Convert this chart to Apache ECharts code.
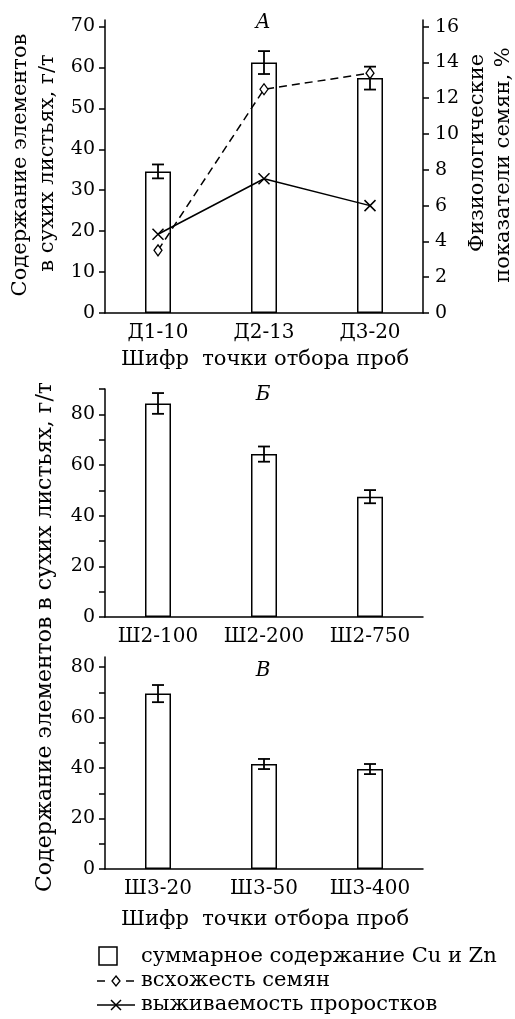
<!DOCTYPE html>
<html>
<head>
<meta charset="utf-8">
<script src="https://cdn.jsdelivr.net/npm/echarts@6/dist/echarts.min.js"></script>
<style>
html,body{margin:0;padding:0;background:#fff;}
#chart{width:515px;height:1019px;}
</style>
</head>
<body>
<div id="chart"></div>
<script>
// ---- data ----
const catsA = ['Д1-10', 'Д2-13', 'Д3-20'];
const catsB = ['Ш2-100', 'Ш2-200', 'Ш2-750'];
const catsC = ['Ш3-20', 'Ш3-50', 'Ш3-400'];
const sumA = [34.6, 61.2, 57.4];
const errA = [1.7, 2.8, 2.8];
const germA = [3.5, 12.5, 13.4];      // всхожесть семян, %
const survA = [4.4, 7.5, 6.0];        // выживаемость проростков, %
const sumB = [84.3, 64.3, 47.5];
const errB = [4.1, 3.0, 2.6];
const sumC = [69.5, 41.6, 39.6];
const errC = [3.4, 2.0, 2.0];
const ticksA = [0, 10, 20, 30, 40, 50, 60, 70];
const ticksA2 = [0, 2, 4, 6, 8, 10, 12, 14, 16];
const ticksB = [0, 10, 20, 30, 40, 50, 60, 70, 80, 90];
const labelsB = [0, 20, 40, 60, 80];
const ticksC = [0, 10, 20, 30, 40, 50, 60, 70, 80];
const labelsC = [0, 20, 40, 60, 80];

const FONT = '"DejaVu Serif", serif';
const FS = 19;
const LW = 1.5;

function xAx(grid, data) {
  return {
    type: 'category', gridIndex: grid, data: data, boundaryGap: true,
    axisLine: { lineStyle: { color: '#000', width: LW } },
    axisTick: { length: 6, lineStyle: { color: '#000', width: LW } },
    axisLabel: { color: '#000', fontFamily: FONT, fontSize: 20, margin: 10 },
    splitLine: { show: false }
  };
}
function yAx(grid, max, ticks, labels, pos) {
  return {
    type: 'value', gridIndex: grid, min: 0, max: max, position: pos || 'left',
    axisLine: { show: true, lineStyle: { color: '#000', width: LW } },
    axisTick: { show: true, length: 6, customValues: ticks, lineStyle: { color: '#000', width: LW } },
    axisLabel: { color: '#000', fontFamily: FONT, fontSize: FS, margin: pos === 'right' ? 12 : 10, customValues: labels },
    splitLine: { show: false }
  };
}
function barSeries(i, data) {
  return {
    type: 'bar', xAxisIndex: i, yAxisIndex: i === 0 ? 0 : i + 1, data: data, barWidth: 26,
    itemStyle: { color: '#fff', borderColor: '#000', borderWidth: LW }, z: 2
  };
}
function errSeries(i, vals, errs) {
  return {
    type: 'custom', xAxisIndex: i, yAxisIndex: i === 0 ? 0 : i + 1, z: 3,
    data: vals.map((v, k) => [k, v - errs[k], v + errs[k]]),
    renderItem: function (params, api) {
      const lo = api.coord([api.value(0), api.value(1)]);
      const hi = api.coord([api.value(0), api.value(2)]);
      const h = 6;
      const st = { stroke: '#000', lineWidth: 1.8 };
      return {
        type: 'group', children: [
          { type: 'line', shape: { x1: lo[0], y1: lo[1], x2: hi[0], y2: hi[1] }, style: st },
          { type: 'line', shape: { x1: lo[0] - h, y1: lo[1], x2: lo[0] + h, y2: lo[1] }, style: st },
          { type: 'line', shape: { x1: hi[0] - h, y1: hi[1], x2: hi[0] + h, y2: hi[1] }, style: st }
        ]
      };
    }
  };
}
function txt(text, x, y, opts) {
  opts = opts || {};
  return {
    type: 'text', x: x, y: y, rotation: opts.rot || 0, z: 10,
    style: {
      text: text, fill: '#000', align: opts.align || 'center', verticalAlign: 'middle',
      font: (opts.italic ? 'italic ' : '') + (opts.size || FS) + 'px ' + FONT
    }
  };
}
const R = Math.PI / 2;

const option = {
  animation: false,
  backgroundColor: '#fff',
  grid: [
    { left: 105, top: 20, width: 318, height: 293 },
    { left: 105, top: 389, width: 318, height: 228 },
    { left: 105, top: 657, width: 318, height: 212 }
  ],
  xAxis: [xAx(0, catsA), xAx(1, catsB), xAx(2, catsC)],
  yAxis: [
    yAx(0, 71.6, ticksA, ticksA),
    yAx(0, 16.37, ticksA2, ticksA2, 'right'),
    yAx(1, 90, ticksB, labelsB),
    yAx(2, 84, ticksC, labelsC)
  ],
  series: [
    barSeries(0, sumA), errSeries(0, sumA, errA),
    barSeries(1, sumB), errSeries(1, sumB, errB),
    barSeries(2, sumC), errSeries(2, sumC, errC),
    {
      type: 'line', xAxisIndex: 0, yAxisIndex: 1, data: germA, z: 5,
      symbol: 'diamond', symbolSize: [8, 11], showSymbol: true,
      lineStyle: { color: '#000', width: LW, type: [8, 5] },
      itemStyle: { color: '#fff', borderColor: '#000', borderWidth: 1.3 }
    },
    {
      type: 'line', xAxisIndex: 0, yAxisIndex: 1, data: survA, z: 5,
      symbol: 'path://M0,0L10,10M10,0L0,10', symbolSize: 11, showSymbol: true,
      lineStyle: { color: '#000', width: LW, type: 'solid' },
      itemStyle: { color: 'none', borderColor: '#000', borderWidth: 1.5 }
    }
  ],
  graphic: [
    txt('А', 263, 23, { italic: true, size: 20 }),
    txt('Б', 263, 395, { italic: true, size: 20 }),
    txt('В', 263, 671, { italic: true, size: 20 }),
    txt('Содержание элементов', 21, 165, { rot: R, size: 21 }),
    txt('в сухих листьях, г/т', 48, 163, { rot: R, size: 21 }),
    txt('Физиологические', 478, 153, { rot: R, size: 21 }),
    txt('показатели семян, %', 504, 165, { rot: R, size: 21 }),
    txt('Содержание элементов в сухих листьях, г/т', 45, 637, { rot: R, size: 22 }),
    txt('Шифр  точки отбора проб', 265, 360, { size: 21 }),
    txt('Шифр  точки отбора проб', 265, 920, { size: 21 }),
    // legend
    { type: 'rect', shape: { x: 99, y: 947, width: 18, height: 18 }, style: { fill: '#fff', stroke: '#000', lineWidth: LW } },
    txt('суммарное содержание Cu и Zn', 141, 957, { align: 'left', size: 21 }),
    { type: 'line', shape: { x1: 97, y1: 981, x2: 105, y2: 981 }, style: { stroke: '#000', lineWidth: LW } },
    { type: 'polygon', shape: { points: [[116, 976], [120, 981], [116, 986], [112, 981]] }, style: { fill: '#fff', stroke: '#000', lineWidth: 1.3 } },
    { type: 'line', shape: { x1: 126, y1: 981, x2: 134, y2: 981 }, style: { stroke: '#000', lineWidth: LW } },
    txt('всхожесть семян', 141, 981, { align: 'left', size: 21 }),
    { type: 'line', shape: { x1: 97, y1: 1005, x2: 135, y2: 1005 }, style: { stroke: '#000', lineWidth: LW } },
    { type: 'line', shape: { x1: 111, y1: 1000, x2: 121, y2: 1010 }, style: { stroke: '#000', lineWidth: LW } },
    { type: 'line', shape: { x1: 121, y1: 1000, x2: 111, y2: 1010 }, style: { stroke: '#000', lineWidth: LW } },
    txt('выживаемость проростков', 141, 1005, { align: 'left', size: 21 })
  ]
};
const chart = echarts.init(document.getElementById('chart'), null, { renderer: 'canvas' });
chart.setOption(option);
</script>
</body>
</html>
